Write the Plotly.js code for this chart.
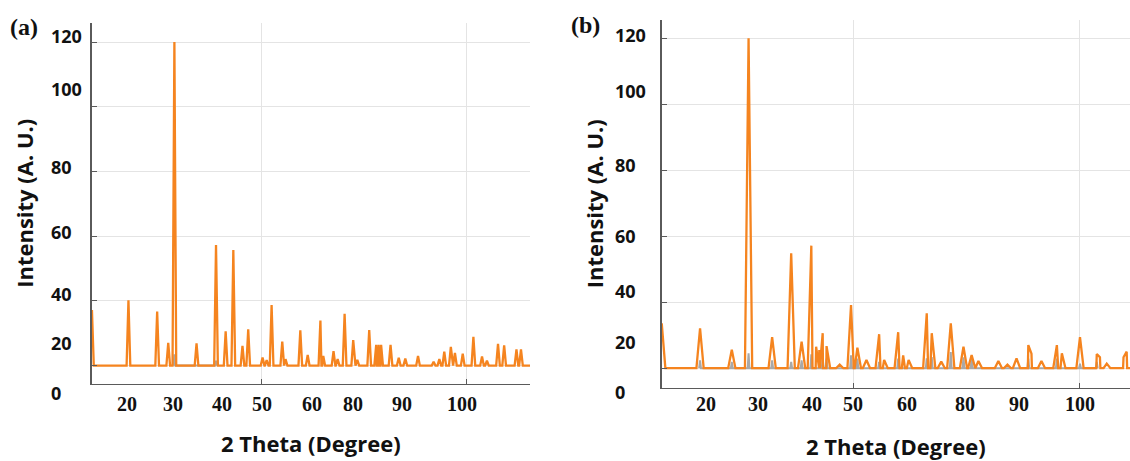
<!DOCTYPE html>
<html><head><meta charset="utf-8">
<script src="https://cdn.plot.ly/plotly-3.0.1.min.js"></script>
<style>html,body{margin:0;padding:0;background:#fff;}#chart{width:1130px;height:461px;}</style>
</head><body><div id="chart"></div>
<script>
// ---------- Panel (a) data (2 theta in degrees, intensity on the gridline scale) ----------
const scanA = [8.0, 115.6];
const baseA = 20.0;
const peakPosA = [8.6, 17.5, 24.5, 27.2, 28.7, 34.1, 38.85, 41.2, 43.07, 45.3, 46.7, 50.2, 51.2, 52.4, 55.0, 55.8, 59.4, 61.2, 64.3, 65.0, 67.5, 68.5, 70.2, 72.3, 73.3, 76.2, 77.9, 78.5, 79.1, 81.4, 83.4, 85.0, 88.1, 91.9, 93.3, 94.5, 96.1, 97.1, 99.0, 101.6, 103.7, 104.9, 107.6, 109.1, 112.1, 113.2];
const peakIntA = [37.2, 40.2, 36.7, 27.0, 120.0, 26.9, 57.3, 30.6, 55.7, 26.1, 31.2, 22.5, 21.7, 38.7, 27.4, 22.0, 30.9, 23.3, 33.9, 23.0, 24.5, 22.0, 36.0, 27.9, 21.8, 31.0, 26.4, 26.4, 26.4, 26.4, 22.4, 22.2, 23.0, 21.2, 22.0, 24.3, 25.8, 23.9, 23.7, 28.9, 22.8, 21.5, 26.7, 26.3, 25.0, 25.0];
const refPosA = [28.7, 38.85];
const refIntA = [23.5, 21.5];

// ---------- Panel (b) data ----------
const scanB = [7.0, 111.5];
const baseB = 20.1;
const peakPosB = [7.75, 16.2, 23.2, 26.9, 32.1, 36.3, 38.6, 40.74, 41.8, 42.5, 43.25, 44.1, 47.0, 49.5, 50.9, 52.9, 55.7, 56.8, 59.9, 61.0, 62.2, 66.2, 67.3, 69.4, 71.5, 74.3, 76.1, 77.6, 82.0, 84.0, 86.0, 88.6, 89.3, 91.5, 94.9, 96.0, 100.0, 103.7, 104.4, 105.9, 109.6, 110.3];
const peakIntB = [33.7, 32.2, 25.7, 120.0, 29.5, 54.9, 28.1, 57.2, 26.6, 25.6, 30.7, 26.8, 21.2, 39.2, 26.3, 22.6, 30.4, 22.6, 31.0, 24.0, 22.6, 36.7, 30.7, 22.1, 33.7, 26.6, 24.1, 22.3, 22.3, 21.2, 23.1, 27.1, 24.5, 22.3, 27.1, 24.6, 29.5, 24.4, 23.4, 21.5, 23.4, 25.1];
const refPosB = [16.2, 23.2, 26.9, 32.1, 36.3, 38.6, 40.74, 43.25, 44.1, 49.5, 50.9, 55.7, 59.9, 66.2, 67.3, 71.5, 74.3, 76.1, 88.6, 94.9, 100.0, 103.7];
const refIntB = [22.5, 22.0, 24.6, 22.5, 22.0, 22.5, 24.3, 23.4, 23.0, 24.0, 23.0, 22.0, 23.0, 23.1, 23.5, 25.0, 23.4, 23.0, 23.0, 23.0, 21.5, 22.0];

// ---------- Tick labels (as printed in the figure) ----------
const xTickText = ['20', '30', '40', '50', '60', '80', '90', '100'];
const xTickPosA = [17.07, 28.44, 40.24, 50.0, 62.2, 72.34, 84.15, 98.78];
const xTickPosB = [17.51, 29.05, 40.82, 50.0, 61.78, 74.64, 86.61, 100.0];
const yTickText = ['120', '100', '80', '60', '40', '20', '0'];
const yTickPosA = [121.9, 105.5, 81.4, 61.3, 42.1, 27.0, 11.5];
const yTickPosB = [121.0, 104.0, 81.6, 60.1, 43.5, 28.0, 12.9];
const gridY = [20, 40, 60, 80, 100, 120];
const gridX = [50, 100];

// ---------- build spike polylines from the read peaks ----------
function profile(pos, inten, base, hw, scan) {
  const pts = [];
  if (scan) { pts.push([scan[0], base], [scan[1], base]); }
  pos.forEach((c, i) => { pts.push([c - hw, base], [c, inten[i]], [c + hw, base]); });
  pts.sort((p, q) => p[0] - q[0]);
  return { x: pts.map(p => p[0]), y: pts.map(p => p[1]) };
}

const ORANGE = '#F5841F';
const GREY = '#A8A8A8';
const pA = profile(peakPosA, peakIntA, baseA, 0.45, scanA);
const gA = profile(refPosA, refIntA, baseA, 0.2, null);
const pB = profile(peakPosB, peakIntB, baseB, 0.8, scanB);
const gB = profile(refPosB, refIntB, baseB, 0.2, null);

const traces = [
  { x: gA.x, y: gA.y, xaxis: 'x', yaxis: 'y', mode: 'lines', line: { color: GREY, width: 2 }, hoverinfo: 'skip', showlegend: false },
  { x: pA.x, y: pA.y, xaxis: 'x', yaxis: 'y', mode: 'lines', line: { color: ORANGE, width: 2.3 }, name: '(a)', showlegend: false },
  { x: gB.x, y: gB.y, xaxis: 'x2', yaxis: 'y2', mode: 'lines', line: { color: GREY, width: 2 }, hoverinfo: 'skip', showlegend: false },
  { x: pB.x, y: pB.y, xaxis: 'x2', yaxis: 'y2', mode: 'lines', line: { color: ORANGE, width: 2.3 }, name: '(b)', showlegend: false }
];

const W = 1130, H = 461;
const titleFont = { family: 'Open Sans, sans-serif', size: 22, color: '#111', weight: 700 };
function xAxis(domain, range, anchor) {
  return {
    domain: domain, range: range, anchor: anchor, showline: true, linecolor: '#5a5a5a', linewidth: 1.5,
    showgrid: true, gridcolor: '#e4e4e4', gridwidth: 1, tickmode: 'array', tickvals: gridX,
    ticks: 'inside', ticklen: 5, tickcolor: '#5a5a5a', showticklabels: false, zeroline: false,
    title: { text: '2 Theta (Degree)', font: titleFont, standoff: 52 }
  };
}
function yAxis(domain, range, anchor) {
  return {
    domain: domain, range: range, anchor: anchor, showline: true, linecolor: '#5a5a5a', linewidth: 1.5,
    showgrid: true, gridcolor: '#e4e4e4', gridwidth: 1, tickmode: 'array', tickvals: gridY,
    ticks: 'inside', ticklen: 5, tickcolor: '#5a5a5a', showticklabels: false, zeroline: false,
    title: { text: 'Intensity (A. U.)', font: titleFont, standoff: 50 }
  };
}

const domXA = [91.7 / W, 530 / W], rangeXA = [8.54, 115.4];
const domYA = [(H - 383.5) / H, (H - 23) / H], rangeYA = [14.47, 125.9];
const domXB = [661.7 / W, 1.0], rangeXB = [7.74, 111.03];
const domYB = [(H - 387.5) / H, (H - 20) / H], rangeYB = [14.26, 125.5];
// map a value on a linear axis to paper fraction (labels may sit below the axis range)
function toPaper(v, dom, rng) { return dom[0] + (v - rng[0]) / (rng[1] - rng[0]) * (dom[1] - dom[0]); }

const annotations = [];
const yLabFont = { family: 'Open Sans, sans-serif', size: 18, color: '#111', weight: 700 };
const xLabFont = { family: 'Liberation Serif, Times New Roman, serif', size: 20, color: '#111', weight: 700 };
yTickText.forEach((t, i) => {
  annotations.push({ text: t, xref: 'paper', x: 49 / W, xanchor: 'left', yref: 'paper', y: toPaper(yTickPosA[i], domYA, rangeYA), yanchor: 'middle', showarrow: false, font: yLabFont });
  annotations.push({ text: t, xref: 'paper', x: 612.5 / W, xanchor: 'left', yref: 'paper', y: toPaper(yTickPosB[i], domYB, rangeYB), yanchor: 'middle', showarrow: false, font: yLabFont });
});
xTickText.forEach((t, i) => {
  annotations.push({ text: t, xref: 'x', x: xTickPosA[i], xanchor: 'center', yref: 'paper', y: (H - 403.5) / H, yanchor: 'middle', showarrow: false, font: xLabFont });
  annotations.push({ text: t, xref: 'x2', x: xTickPosB[i], xanchor: 'center', yref: 'paper', y: (H - 403.5) / H, yanchor: 'middle', showarrow: false, font: xLabFont });
});
const panelFont = { family: 'Liberation Serif, Times New Roman, serif', size: 24, color: '#111', weight: 700 };
annotations.push({ text: '(a)', xref: 'paper', yref: 'paper', x: 23.5 / W, y: (H - 27) / H, xanchor: 'center', yanchor: 'middle', showarrow: false, font: panelFont });
annotations.push({ text: '(b)', xref: 'paper', yref: 'paper', x: 585 / W, y: (H - 25) / H, xanchor: 'center', yanchor: 'middle', showarrow: false, font: panelFont });

const layout = {
  width: W, height: H, margin: { l: 0, r: 0, t: 0, b: 0 },
  paper_bgcolor: '#ffffff', plot_bgcolor: '#ffffff', showlegend: false,
  xaxis: xAxis(domXA, rangeXA, 'y'),
  yaxis: yAxis(domYA, rangeYA, 'x'),
  xaxis2: xAxis(domXB, rangeXB, 'y2'),
  yaxis2: yAxis(domYB, rangeYB, 'x2'),
  annotations: annotations
};

Plotly.newPlot('chart', traces, layout, { displayModeBar: false, staticPlot: true });
</script></body></html>
